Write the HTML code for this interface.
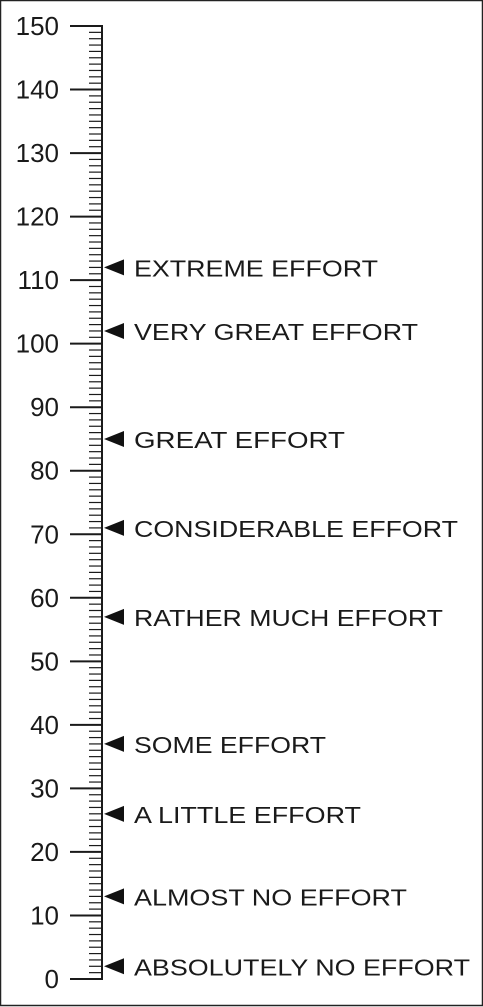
<!DOCTYPE html>
<html><head><meta charset="utf-8"><style>
html,body{margin:0;padding:0;background:#fff;}
svg{display:block;}
text{font-family:"Liberation Sans",sans-serif;fill:#1a1a1a;}
</style></head><body>
<svg id="chart" width="483" height="1007">
<rect x="0.5" y="0.5" width="482" height="1005" fill="#fff" stroke="#222" stroke-width="1.5"/>
</svg>
<script>
const majorTicks=[0,10,20,30,40,50,60,70,80,90,100,110,120,130,140,150];
const markerValues=[112,102,85,71,57,37,26,13,2];
const markerLabels=["EXTREME EFFORT","VERY GREAT EFFORT","GREAT  EFFORT","CONSIDERABLE EFFORT","RATHER MUCH EFFORT","SOME EFFORT","A LITTLE EFFORT","ALMOST NO EFFORT","ABSOLUTELY NO EFFORT"];
const labelWidths=[244,284,211,324,309,192,227,273,336];
const NS="http://www.w3.org/2000/svg";
const svg=document.getElementById('chart');
const y0=979,y1=26,vmin=0,vmax=150;
function y(v){return y0-(v-vmin)/(vmax-vmin)*(y0-y1);}
function mk(t,a){const e=document.createElementNS(NS,t);for(const k in a)e.setAttribute(k,a[k]);svg.appendChild(e);return e;}
const axis=mk('line',{x1:102,x2:102,y1:y(150)-1,y2:y(0)+1,stroke:'#1a1a1a','stroke-width':2});


for(let v=vmin;v<=vmax;v++){
  const major=v%10===0;
  const t=mk('line',{x1:major?70:89,x2:102,y1:y(v),y2:y(v),stroke:'#1a1a1a','stroke-width':major?2:1.2});
  
  
}
majorTicks.forEach(v=>{
  const t=mk('text',{x:59,y:y(v)+9,'text-anchor':'end','font-size':26});
  t.textContent=v;
  
  
});
markerValues.forEach((v,i)=>{
  const yy=y(v);
  const p=mk('polygon',{points:`104,${yy} 124,${yy-8} 124,${yy+8}`,fill:'#111'});
  
  
  const t=mk('text',{x:134,y:yy+9,'font-size':23,textLength:labelWidths[i],lengthAdjust:'spacingAndGlyphs'});
  t.textContent=markerLabels[i];
  
  
});
</script>
</body></html>
